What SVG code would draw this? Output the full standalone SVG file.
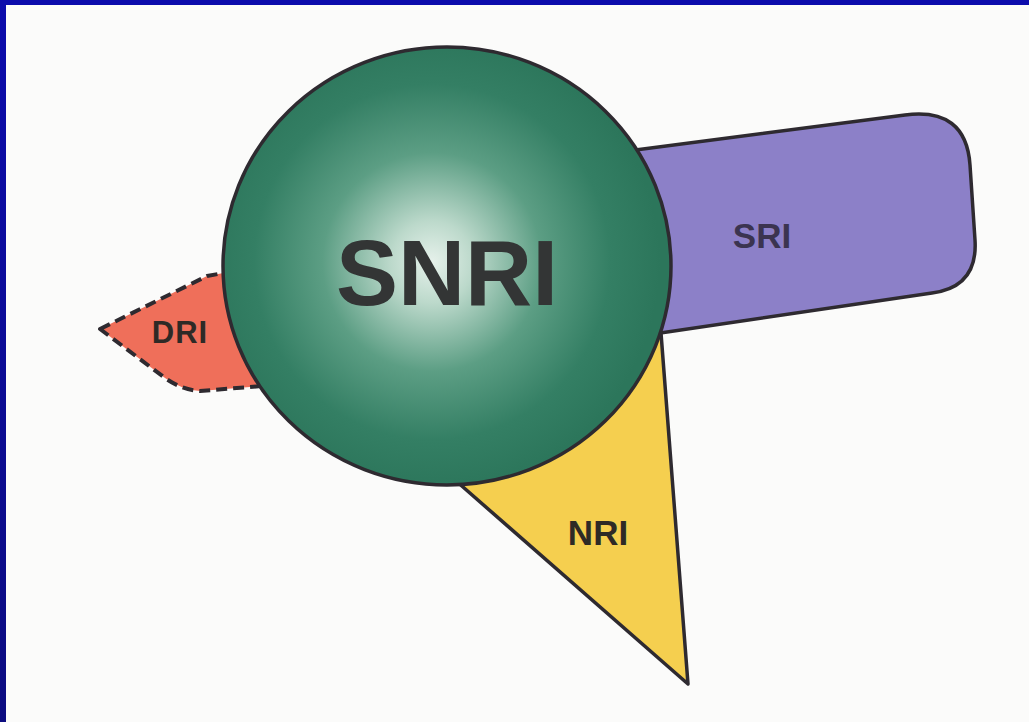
<svg xmlns="http://www.w3.org/2000/svg" width="1029" height="722" viewBox="0 0 1029 722">
  <defs>
    <radialGradient id="sphere" cx="432" cy="262" r="228" gradientUnits="userSpaceOnUse">
      <stop offset="0" stop-color="#e6f1eb"/>
      <stop offset="0.18" stop-color="#bcd9cb"/>
      <stop offset="0.48" stop-color="#5c9e84"/>
      <stop offset="0.78" stop-color="#347f64"/>
      <stop offset="1" stop-color="#2c765b"/>
    </radialGradient>
    <linearGradient id="frame" x1="0" y1="0" x2="0" y2="1">
      <stop offset="0" stop-color="#0c0cac"/>
      <stop offset="1" stop-color="#0c0c80"/>
    </linearGradient>
    <style>
      .shape { stroke: #2e2a30; stroke-width: 3.5; stroke-linejoin: round; }
      .label { font-family: "Liberation Sans", Arial, sans-serif; font-weight: bold; text-anchor: middle; }
    </style>
  </defs>

  <!-- page -->
  <rect x="0" y="0" width="1029" height="722" fill="#fbfbfa"/>
  <rect x="0" y="0" width="6" height="722" fill="url(#frame)"/>
  <rect x="0" y="0" width="1029" height="5" fill="#0c0cac"/>

  <g id="connectors"></g>

  <!-- NRI: yellow wedge below the sphere -->
  <g id="nri">
    <polygon class="shape" fill="#f5cf4f" points="455,480 688,684 660,320"/>
    <text class="label" x="598" y="545" font-size="35" fill="#2e2a26">NRI</text>
  </g>

  <!-- SRI: tilted rounded bar to the right -->
  <g id="sri">
    <path class="shape" fill="#8c80c8" d="M620,152 L905,115 Q966,107 970,165 L975,240 Q978,287 932,293 L640,336 Z"/>
    <text class="label" x="762" y="248" font-size="35" fill="#3b3450">SRI</text>
  </g>

  <!-- DRI: dashed wedge to the left -->
  <g id="dri">
    <path fill="#ef6f5a" stroke="#2e2a30" stroke-width="4" stroke-dasharray="11,6" stroke-linejoin="round"
          d="M100,329 L207,276 L240,270 L262,386 L200,391 Q182,390 165,378 Z"/>
    <text class="label" x="180" y="343" font-size="31" letter-spacing="1" fill="#2e2a26">DRI</text>
  </g>

  <!-- SNRI: central sphere -->
  <g id="snri">
    <ellipse class="shape" cx="447" cy="266" rx="224" ry="219" fill="url(#sphere)"/>
    <text class="label" x="447" y="305" font-size="93" fill="#333535">SNRI</text>
  </g>
</svg>
